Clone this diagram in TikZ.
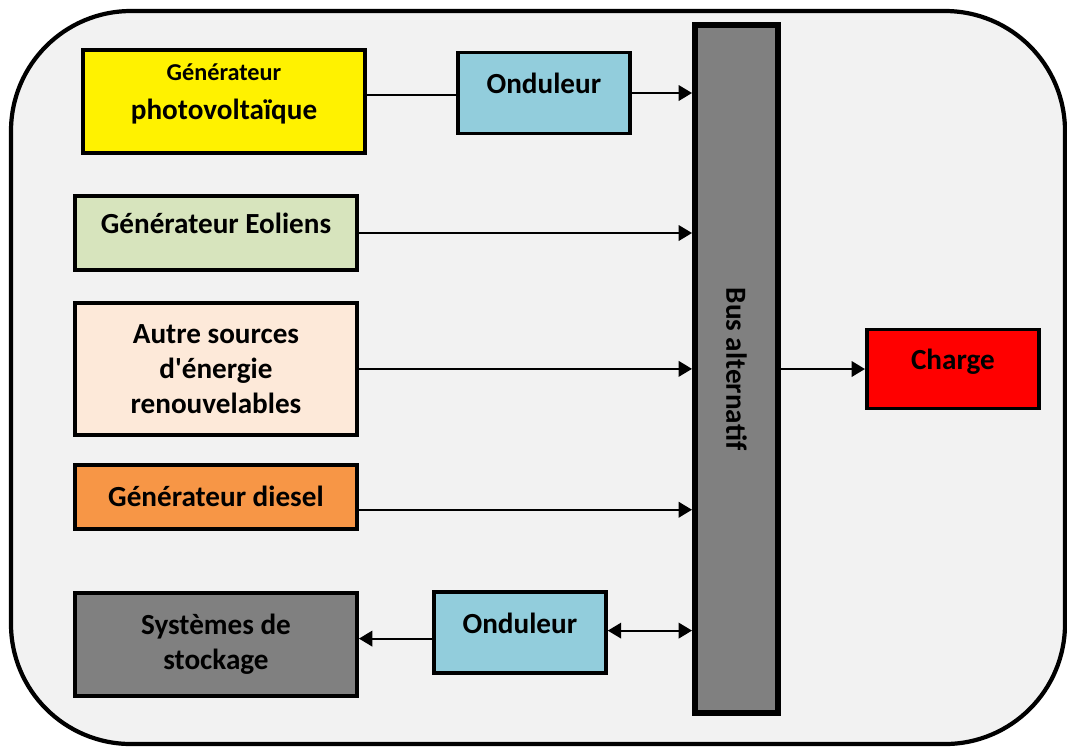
\documentclass[tikz,border=0pt]{standalone}
\usepackage{fontspec}
\setmainfont{Carlito}
\usepackage{xcolor}
\usetikzlibrary{positioning,arrows.meta}

\definecolor{frameBg}{HTML}{F2F2F2}
\definecolor{ondBlue}{HTML}{92CDDC}
\definecolor{eolGreen}{HTML}{D7E4BD}
\definecolor{autrePeach}{HTML}{FDE9D9}
\definecolor{dieselOrange}{HTML}{F79646}
\definecolor{busGrey}{HTML}{808080}

\begin{document}
\begin{tikzpicture}[
  font=\fontsize{8.3}{10}\selectfont\bfseries,
  box/.style={draw=black, line width=1.1pt, align=center, inner sep=0pt,
              minimum width=2.82cm},
  ond/.style={box, fill=ondBlue, minimum width=1.72cm, minimum height=0.81cm},
  raised/.style={text depth=5.5pt},
  arr/.style={-{Triangle[length=3.8pt,width=4.4pt]}, line width=0.6pt},
  arrtwo/.style={{Triangle[length=3.8pt,width=4.4pt]}-{Triangle[length=3.8pt,width=4.4pt]}, line width=0.6pt}]

\useasboundingbox (0,0) rectangle (10.67,-7.49);
\draw[line width=1.2pt, fill=frameBg, rounded corners=1.2cm]
  (0.11,-0.11) rectangle (10.65,-7.44);

% sources
\node[box, raised, fill=yellow, minimum height=1.03cm] (pv) at (2.24,-1.015)
  {{\fontsize{6.9}{8}\selectfont Générateur}\\[1pt]photovoltaïque};
\node[ond, raised, right=0.89cm of pv, yshift=0.085cm] (ond1) {Onduleur};

\node[box, raised, fill=eolGreen, minimum height=0.74cm] (eol) at (2.16,-2.33)
  {Générateur Eoliens};
\node[box, fill=autrePeach, minimum height=1.32cm, below=0.29cm of eol] (autre)
  {Autre sources\\d\textquotesingle énergie\\renouvelables};
\node[box, fill=dieselOrange, minimum height=0.64cm, below=0.26cm of autre] (diesel)
  {Générateur diesel};
\node[box, fill=busGrey, minimum height=1.03cm, below=0.60cm of diesel] (stock)
  {Systèmes de\\stockage};
\node[ond, raised, right=0.73cm of stock, yshift=0.115cm] (ond2) {Onduleur};

% bus et charge
\node[draw=black, line width=1.7pt, fill=busGrey, minimum width=0.83cm,
      minimum height=6.88cm, label={[rotate=-90]center:Bus alternatif}] (bus)
  at (7.365,-3.69) {};
\node[box, raised, fill=red, minimum width=1.72cm, minimum height=0.79cm,
      right=0.84cm of bus] (charge) {Charge};

\draw[line width=0.6pt] ([yshift=0.065cm]pv.east) coordinate (p1) -- (p1 -| ond1.west);
\draw[arr] (ond1.east) -- (ond1.east -| bus.west);
\foreach \t in {eol,autre}
  \draw[arr] (\t.east) -- (\t.east -| bus.west);
\draw[arr] ([yshift=-0.13cm]diesel.east) coordinate (d1) -- (d1 -| bus.west);
\draw[arrtwo] ([yshift=0.02cm]ond2.east) coordinate (o2) -- (o2 -| bus.west);
\draw[arr] ([yshift=-0.06cm]ond2.west) coordinate (s1) -- (s1 -| stock.east);
\draw[arr] (bus.east |- charge.west) -- (charge.west);

\end{tikzpicture}
\end{document}
